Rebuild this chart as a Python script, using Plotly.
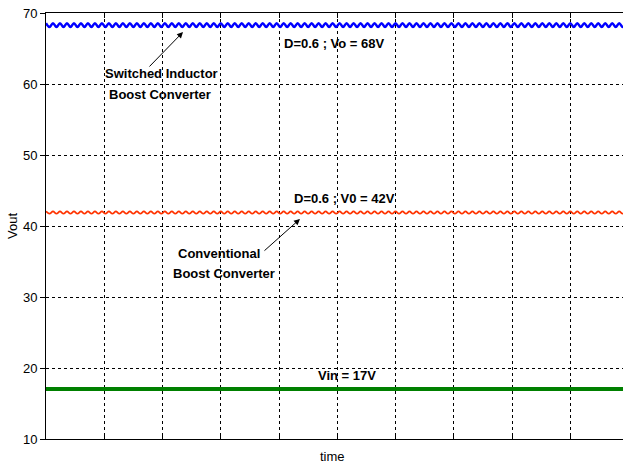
import numpy as np
import plotly.graph_objects as go

# --- data ---
y_ticks = [10, 20, 30, 40, 50, 60, 70]
vo_si_mean = 68.3      # switched inductor boost converter output (V)
vo_conv_mean = 41.9    # conventional boost converter output (V)
vin_value = 17.05      # input voltage (V)
ripple_si = [0.27, -0.27]      # one ripple period (peak, trough)
ripple_conv = [0.17, -0.17]
t_end = 9.905          # time span in grid intervals
ripple_period = 0.12   # in grid intervals

half = ripple_period / 2
t = np.arange(0, t_end + half, half)
n = len(t)
v_si = vo_si_mean + np.resize(np.array(ripple_si), n)
v_conv = vo_conv_mean + np.resize(np.array(ripple_conv), n)
v_in = np.full(n, vin_value)

fig = go.Figure()
fig.add_trace(go.Scatter(x=t, y=v_si, mode="lines",
                         line=dict(color="#0000FF", width=2.5, shape="spline"),
                         showlegend=False))
fig.add_trace(go.Scatter(x=t, y=v_conv, mode="lines",
                         line=dict(color="#FF3300", width=1.8, shape="spline"),
                         showlegend=False))
fig.add_trace(go.Scatter(x=t, y=v_in, mode="lines",
                         line=dict(color="#008000", width=4), showlegend=False))

bold = dict(family="Liberation Sans, Arial, sans-serif", size=13, color="black")
texts = [
    ("<b>D=0.6 ; Vo = 68V</b>", 4.944, 65.77),
    ("<b>Switched Inductor</b>", 1.99, 61.41),
    ("<b>Boost Converter</b>", 1.957, 58.59),
    ("<b>D=0.6 ; V0 = 42V</b>", 5.116, 43.94),
    ("<b>Conventional</b>", 2.97, 36.06),
    ("<b>Boost Converter</b>", 3.056, 33.38),
    ("<b>Vin = 17V</b>", 5.167, 19.01),
]
for txt, x, y in texts:
    fig.add_annotation(x=x, y=y, text=txt, showarrow=False, font=bold,
                       xanchor="center", yanchor="middle")

for hx, hy, ax, ay in [(2.352, 67.32, -35, 36), (4.36, 40.99, -37, 33)]:
    fig.add_annotation(x=hx, y=hy, ax=ax, ay=ay, text="", showarrow=True,
                       arrowhead=2, arrowsize=1.2, arrowwidth=1, arrowcolor="black")

axis_font = dict(family="Liberation Sans, Arial, sans-serif", size=13, color="black")
fig.add_annotation(xref="paper", yref="paper", x=0.497, y=-0.042, text="time",
                   showarrow=False, xanchor="center", yanchor="middle", font=axis_font)
fig.add_annotation(xref="paper", yref="paper", x=-0.059, y=0.5, text="Vout",
                   showarrow=False, textangle=-90, xanchor="center", yanchor="middle",
                   font=axis_font)

grid = dict(showgrid=True, gridcolor="black", gridwidth=1, griddash="3px,3px")
fig.update_xaxes(range=[0, t_end], dtick=1, tick0=0, showticklabels=False,
                 ticks="inside", ticklen=5, tickcolor="black",
                 showline=True, linecolor="black", linewidth=1, mirror="ticks",
                 zeroline=False, **grid)
fig.update_yaxes(range=[10, 70], tickvals=y_ticks, ticks="outside", ticklen=5,
                 tickcolor="black", showline=True, linecolor="black", linewidth=1,
                 zeroline=False, tickfont=axis_font, **grid)

fig.update_layout(width=623, height=466, margin=dict(l=46, r=0, t=13, b=27),
                  plot_bgcolor="white", paper_bgcolor="white")
fig.write_html("out.html")
